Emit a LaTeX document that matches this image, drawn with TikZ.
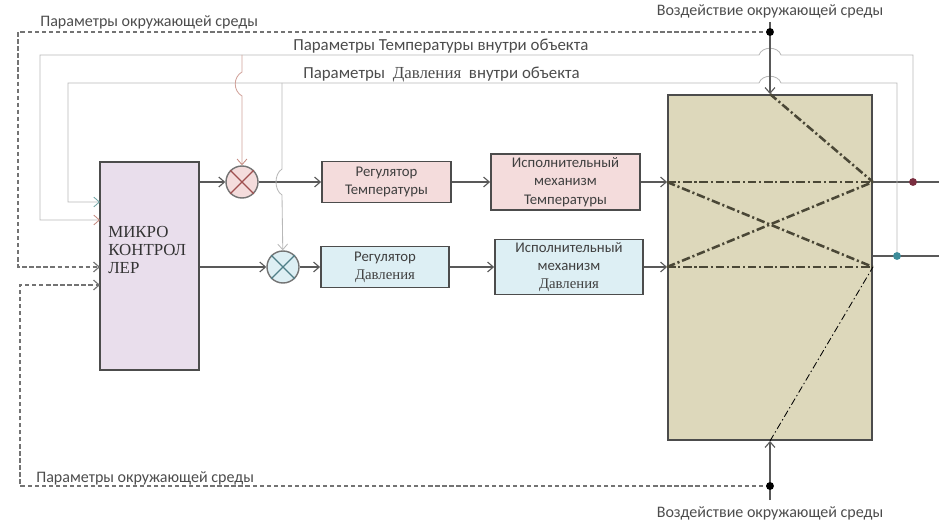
\documentclass[tikz,border=0pt]{standalone}
\usepackage{fontspec}
\setmainfont{Carlito}
\newfontfamily\serifru{Liberation Serif}
\usetikzlibrary{arrows.meta,positioning}

\definecolor{mkfill}{HTML}{E9DEEC}
\definecolor{pinkT}{HTML}{F4DCDC}
\definecolor{blueD}{HTML}{DDEFF4}
\definecolor{plantc}{HTML}{DDD8BB}
\definecolor{innerc}{HTML}{4A4736}
\definecolor{xT}{HTML}{A05050}
\definecolor{xD}{HTML}{4F7F88}
\definecolor{dotT}{HTML}{7A2E40}
\definecolor{dotD}{HTML}{3D8C9A}
\definecolor{arrT}{HTML}{C48A80}
\definecolor{arrD}{HTML}{6FA3A3}

\tikzset{
 blk/.style={draw=black!70,line width=1.3pt,align=center,inner sep=1pt,
   font=\fontsize{10.5}{13}\selectfont,text=black!75},
 tbox/.style={blk,fill=pinkT},
 dbox/.style={blk,fill=blueD},
 mult/.style={circle,draw=black!55,line width=1pt,minimum size=0.8cm,inner sep=0pt},
 flow/.style={draw=black!65,line width=0.8pt},
 env/.style={draw=black!55,line width=0.8pt,densely dashed},
 fb/.style={draw=black!28,line width=0.6pt},
 inner/.style={draw=innerc,line width=1.8pt,dash pattern=on 6pt off 2pt on 1.5pt off 2pt},
 lbl/.style={text=black!70,inner sep=0pt},
 envlbl/.style={lbl,font=\fontsize{11.4}{14}\selectfont},
}

\begin{document}
\begin{tikzpicture}[x=0.025cm,y=-0.025cm,>={Straight Barb[length=4pt,width=7pt]},
  font=\fontsize{12}{14}\selectfont]
\useasboundingbox (0,0) rectangle (939,524);

% blocks
\node[blk,fill=mkfill,minimum width=2.475cm,minimum height=5.2cm] (mk) at (149.5,266) {};
\node[anchor=west,align=left,inner sep=0pt,font=\serifru\fontsize{12}{13}\selectfont,text=black!80] (mktext) at (108,250) {МИКРО\\КОНТРОЛ\\ЛЕР};
\node[mult,fill=pinkT] (c1) at (242,182) {};
\node[mult,fill=blueD] (c2) at (283,267) {};
\draw[xT,line width=0.9pt] (c1.45) -- (c1.225) (c1.135) -- (c1.315);
\draw[xD,line width=0.9pt] (c2.45) -- (c2.225) (c2.135) -- (c2.315);
\node[tbox,minimum width=3.225cm,minimum height=1.025cm] (regT) at (386.5,182) {Регулятор\\Температуры};
\node[tbox,minimum width=3.725cm,minimum height=1.4cm] (imT) at (565.5,182) {Исполнительный\\механизм\\Температуры};
\node[dbox,minimum width=3.2cm,minimum height=1.025cm] (regD) at (385,267) {Регулятор\\{\serifru Давления}};
\node[dbox,minimum width=3.7cm,minimum height=1.375cm] (imD) at (569,267) {Исполнительный\\механизм\\{\serifru Давления}};
\node[blk,fill=plantc,minimum width=5.1cm,minimum height=8.625cm] (plant) at (770,267.5) {};

\coordinate (inT) at (plant.west |- imT);
\coordinate (inD) at (plant.west |- imD);
\coordinate (rT) at (plant.east |- imT);
\coordinate (rD) at (plant.east |- imD);

% forward path
\draw[flow,->] (c1 -| mk.east) -- (c1);
\draw[flow,->] (c1) -- (regT);
\draw[flow,->] (regT) -- (imT);
\draw[flow,->] (imT) -- (inT);
\draw[flow,->] (c2 -| mk.east) -- (c2);
\draw[flow,->] (c2) -- (regD);
\draw[flow,->] (regD) -- (imD);
\draw[flow,->] (imD) -- (inD);

% inside the object
\draw[inner] (inT) -- (rT);
\draw[inner] (inD) -- (rD);
\draw[inner] (inT) -- (rD);
\draw[inner] (inD) -- (rT);
\draw[inner] (plant.north) -- (rT);
\draw[black,line width=0.6pt,dash pattern=on 5pt off 2pt on 1pt off 2pt] (plant.south) -- (rD);

% outputs and feedback
\coordinate (fbT) at (913,182);
\coordinate (fbD) at (897,256);
\coordinate (outT) at (939,182);
\coordinate (outD) at (939,256);
\coordinate (fbInT) at (100,220);
\coordinate (fbInD) at (100,202);
\draw[flow] (rT) -- (outT);
\draw[flow] (plant.east |- fbD) -- (outD);
\draw[fb,-{Straight Barb[length=4pt,width=7pt,color=arrT]}] (fbT) |- (781,55) .. controls (778,46) and (762,46) .. (759,55) -- (40,55) |- (fbInT);
\draw[fb,-{Straight Barb[length=4pt,width=7pt,color=arrD]}] (fbD) |- (781,83) .. controls (778,74) and (762,74) .. (759,83) -- (68,83) |- (fbInD);
\draw[fb,draw=arrT!80,-{Straight Barb[length=4pt,width=7pt,color=arrT]}] (242,55) -- (242,72) .. controls (233,77) and (233,91) .. (242,96) -- (c1);
\draw[fb,->] (282,83) -- (282,169) .. controls (274,174) and (274,190) .. (282,195) -- (c2);
\fill[dotT] (fbT) circle (2.8pt);
\fill[dotD] (fbD) circle (2.8pt);

% environment
\coordinate (envTop) at (770,32);
\coordinate (envBot) at (770,486);
\coordinate (envTopEnd) at (770,22);
\coordinate (envBotEnd) at (770,500);
\coordinate (envIn1) at (100,267);
\coordinate (envIn2) at (100,285);
\draw[env,->] (envTop) -| (18,267) -- (envIn1);
\draw[env,->] (envBot) -| (20,285) -- (envIn2);
\draw[flow,->] (envTopEnd) -- (plant.north);
\draw[flow,->] (envBotEnd) -- (plant.south);
\fill[black] (envTop) circle (2.8pt);
\fill[black] (envBot) circle (2.8pt);

% labels
\node[envlbl,anchor=base west] (envTxt1) at (40,27) {Параметры окружающей среды};
\node[envlbl,anchor=base west] (envTxt2) at (36,482) {Параметры окружающей среды};
\node[envlbl,anchor=base] (actTxt1) at (770,16) {Воздействие окружающей среды};
\node[envlbl,anchor=base] (actTxt2) at (770,517) {Воздействие окружающей среды};
\node[lbl,anchor=base west] (tTxt) at (293,51) {Параметры Температуры внутри объекта};
\node[lbl,anchor=base west] (dTxt) at (303,79) {Параметры \ {\serifru Давления} \ внутри объекта};
\end{tikzpicture}
\end{document}
